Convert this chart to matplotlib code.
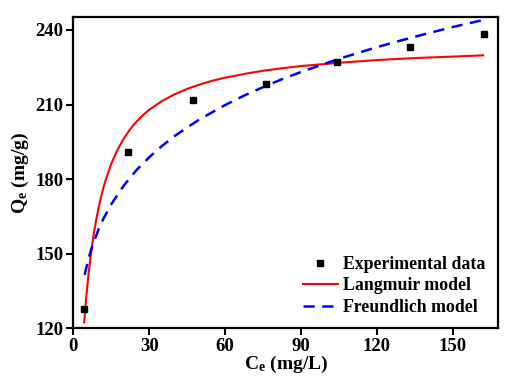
import matplotlib
matplotlib.use("Agg")
import matplotlib.pyplot as plt

# -------------------------------------------------------
# Data
# -------------------------------------------------------
ce_exp = [4.3, 21.7, 47.4, 76.2, 104.2, 133.0, 162.3]
qe_exp = [127.6, 191.1, 212.0, 218.4, 227.2, 233.3, 238.5]

# Langmuir fit line (sampled along the red curve)
ce_lang = [4.3, 5, 6, 7, 8, 9, 10, 11, 12, 13, 15, 17.5, 20, 22.5, 25,
           27.5, 30, 35, 40, 45, 50, 55, 60, 67.5, 75, 82.5, 90, 105, 120,
           135, 150, 162]
qe_lang = [122.4, 131.2, 141.7, 150.2, 157.4, 163.4, 168.5, 173.0, 176.9,
           180.3, 186.2, 191.9, 196.4, 200.1, 203.2, 205.7, 207.9, 211.4,
           214.1, 216.3, 218.1, 219.6, 220.8, 222.3, 223.6, 224.6, 225.5,
           226.8, 227.9, 228.7, 229.3, 229.8]

# Freundlich fit line (sampled along the blue dashed curve)
ce_freu = [4.5, 5, 6, 7, 8, 10, 12, 15, 20, 25, 30, 35, 40, 45, 50, 60,
           67.5, 75, 82.5, 90, 105, 120, 135, 150, 162]
qe_freu = [141.5, 143.8, 147.9, 151.4, 154.5, 159.8, 164.3, 169.9, 177.5,
           183.7, 188.8, 193.3, 197.3, 200.8, 204.1, 209.8, 213.6, 217.0,
           220.2, 223.1, 228.4, 233.1, 237.3, 241.2, 244.0]

x_ticks = [0, 30, 60, 90, 120, 150]
y_ticks = [120, 150, 180, 210, 240]

# -------------------------------------------------------
# Style
# -------------------------------------------------------
plt.rcParams["font.family"] = ["Liberation Serif", "DejaVu Serif"]
plt.rcParams["font.weight"] = "bold"
plt.rcParams["mathtext.fontset"] = "custom"
plt.rcParams["mathtext.rm"] = "Liberation Serif:bold"
plt.rcParams["mathtext.bf"] = "Liberation Serif:bold"
plt.rcParams["mathtext.it"] = "Liberation Serif:bold"

fig = plt.figure(figsize=(5.17, 3.89), dpi=100)
ax = fig.add_axes([0.1418, 0.156, 0.822, 0.7995])

ax.plot(ce_exp, qe_exp, "s", color="black", markersize=5,
        label="Experimental data", zorder=3)
ax.plot(ce_lang, qe_lang, "-", color="#ff0000", linewidth=1.5,
        label="Langmuir model", zorder=2)
ax.plot(ce_freu, qe_freu, "--", color="#0000ff", linewidth=1.8,
        dashes=(4.5, 3), label="Freundlich model", zorder=2)

ax.set_xlim(0, 168)
ax.set_ylim(120, 245.1)
ax.set_xticks(x_ticks)
ax.set_yticks(y_ticks)

ax.tick_params(direction="out", length=5, width=1.5, labelsize=13.5,
               top=False, right=False, pad=2)
for s in ax.spines.values():
    s.set_linewidth(1.6)

ax.set_xlabel("C$_\\mathregular{e}$ (mg/L)", fontsize=14, fontweight="bold",
              labelpad=-1)
ax.set_ylabel("Q$_\\mathregular{e}$ (mg/g)", fontsize=14, fontweight="bold",
              labelpad=3)

ax.legend(loc="lower right", frameon=False, fontsize=12.8, handlelength=2.0,
          handletextpad=0.3, labelspacing=0.25, borderaxespad=0.3)

fig.savefig("out.png", dpi=100)
